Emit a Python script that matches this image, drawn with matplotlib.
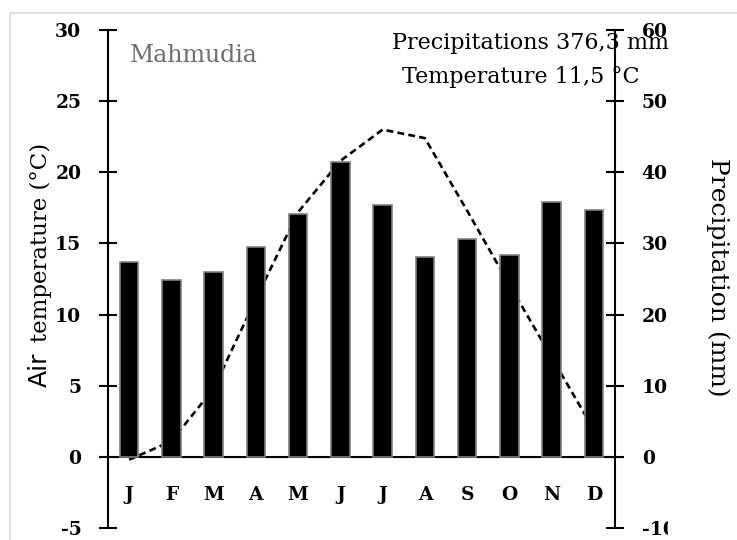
import numpy as np
import matplotlib
matplotlib.use("Agg")
import matplotlib.pyplot as plt
from matplotlib.patches import Rectangle
from matplotlib.transforms import Bbox, TransformedBbox

months = ['J', 'F', 'M', 'A', 'M', 'J', 'J', 'A', 'S', 'O', 'N', 'D']
precip = [27.4, 24.8, 26.0, 29.5, 34.2, 41.4, 35.4, 28.1, 30.6, 28.4, 35.8, 34.7]
temp = [-0.2, 1.1, 4.8, 11.1, 17.2, 20.8, 23.0, 22.4, 17.3, 12.1, 7.0, 1.9]
temp_ticks = [-5, 0, 5, 10, 15, 20, 25, 30]
precip_ticks = [-10, 0, 10, 20, 30, 40, 50, 60]

W, H = 737, 540
fig = plt.figure(figsize=(W / 100, H / 100), dpi=100)

# light gray frame around the chart
fig.patches.append(Rectangle((10 / W, -0.1), 1.2, 1 - 13 / H + 0.1, transform=fig.transFigure,
                             fill=False, edgecolor='#d9d9d9', linewidth=1.2))

ax = fig.add_axes([108 / W, 12 / H, 507 / W, 498 / H])
ax2 = ax.twinx()

# spine position first, it resets the ticks
ax.spines['bottom'].set_position(('data', 0))
for s in ['top', 'right']:
    ax.spines[s].set_visible(False)
for s in ['top', 'left', 'bottom']:
    ax2.spines[s].set_visible(False)
ax.spines['bottom'].set_linewidth(1.5)
ax.spines['left'].set_linewidth(1.5)
ax2.spines['right'].set_linewidth(1.5)

x = np.arange(len(months))

ax.plot(x, temp, color='black', linestyle='--', dashes=(2.6, 1.6), linewidth=1.9, zorder=1)
ax2.bar(x, precip, width=0.44, color='black', edgecolor='#808080', linewidth=1.2, zorder=2)

ax.set_xlim(-0.5, 11.5)
ax.set_ylim(-5, 30)
ax2.set_ylim(-10, 60)

tickfont = dict(family='DejaVu Serif', weight='bold', size=13.5)

ax.set_yticks(temp_ticks)
ax.set_yticklabels([str(t) for t in temp_ticks], **tickfont)
ax2.set_yticks(precip_ticks)
ax2.set_yticklabels([str(t) for t in precip_ticks], **tickfont)
ax.set_xticks(x)
ax.set_xticklabels(months, **tickfont)

ax.tick_params(axis='y', direction='inout', length=13.5, width=1.5, pad=12.5)
ax2.tick_params(axis='y', direction='inout', length=13.5, width=1.5, pad=12.5)
ax.tick_params(axis='x', length=0, pad=21)

# the -10 label is cut in the original
clip = TransformedBbox(Bbox([[0, 0], [668 / W, 1]]), fig.transFigure)
for lbl in ax2.get_yticklabels():
    if lbl.get_text() == '-10':
        lbl.set_clip_box(clip)
        lbl.set_clip_on(True)

# left axis title: "Air" in sans, the rest in serif
fig.text(47 / W, 1 - 387 / H, 'Air', rotation=90, rotation_mode='anchor', ha='left',
         va='baseline', family='DejaVu Sans', size=18)
fig.text(47 / W, 1 - 342 / H, 'temperature (°C)', rotation=90, rotation_mode='anchor',
         ha='left', va='baseline', family='DejaVu Serif', size=16.5)
fig.text(718 / W, 1 - 277 / H, 'Precipitation (mm)', rotation=-90, ha='center', va='center',
         family='DejaVu Serif', size=18)

fig.text(130 / W, 1 - 56 / H, 'Mahmudia', ha='left', va='center', color='#6d6d6d',
         family='DejaVu Serif', size=17)
fig.text(530 / W, 1 - 43 / H, 'Precipitations 376,3 mm', ha='center', va='center',
         family='DejaVu Serif', size=16)
fig.text(521 / W, 1 - 77 / H, 'Temperature 11,5 °C', ha='center', va='center',
         family='DejaVu Serif', size=16)

fig.savefig('out.png', dpi=100)
